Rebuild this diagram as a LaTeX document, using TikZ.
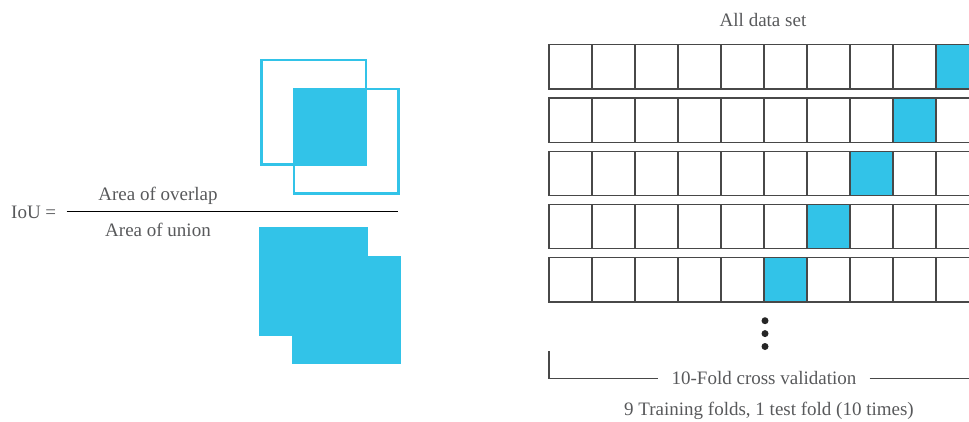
\documentclass[tikz,border=0pt]{standalone}
\usepackage{fontspec}
\setmainfont{Liberation Serif}
\usetikzlibrary{positioning}
\definecolor{iouCyan}{RGB}{50,195,232}
\definecolor{txtGray}{RGB}{88,89,91}
\definecolor{gridGray}{RGB}{72,72,72}

\begin{document}
\begin{tikzpicture}[x=1pt, y=-1pt,
  box/.style={
    rectangle, draw=iouCyan, line width=2.6pt,
    minimum size=104.7pt, inner sep=0pt},
  blob/.style={
    rectangle, fill=iouCyan, minimum size=108.5pt,
    inner sep=0pt, outer sep=0pt},
  lbl/.style={font=\fontsize{19}{22}\selectfont, text=txtGray, inner sep=0pt},
  fold/.style={
    rectangle, draw=gridGray, line width=1.3pt,
    minimum width=43pt, minimum height=44.3pt,
    inner sep=0pt, outer sep=0pt},
  test/.style={fold, fill=iouCyan},
  dot/.style={circle, fill=black!85, minimum size=7pt, inner sep=0pt},
  rule/.style={line width=1.1pt, draw=gridGray},
]
\useasboundingbox (0,0) rectangle (969,421);

%% ---- IoU: overlap ----
\node[box] (sqA) at (313.7,112.2) {};
\node[box] (sqB) at (346.3,141.3) {};
\fill[iouCyan] (sqB.north west) rectangle (sqA.south east);

%% ---- IoU: union ----
\node[blob] (unA) at (313.3,281.5) {};
\node[blob] (unB) at (346.6,310.2) {};

%% ---- Formula ----
\node[lbl, anchor=base] (iou) at (33.7,218)   {IoU =};
\node[lbl, anchor=base] (num) at (158,200)    {Area of overlap};
\node[lbl, anchor=base] (den) at (158,236.7)  {Area of union};
\coordinate (barL) at (66.7,211.7);
\coordinate (barR) at (398,211.7);
\draw[line width=1pt] (barL) -- (barR);

%% ---- Folds ----
\node[lbl, anchor=base] (all) at (763,26.5) {All data set};

\foreach \r in {1,...,5}{
  \foreach \c in {1,...,10}{
    \node[fold] (f\r-\c) at ({570.5+43*(\c-1)}, {66.85+53.25*(\r-1)}) {};
  }
  \pgfmathtruncatemacro{\k}{11-\r}
  \node[test] (t\r) at (f\r-\k) {};
}

\node[dot] (d1) at (765,320.7) {};
\node[dot, below=5.5pt of d1] (d2) {};
\node[dot, below=5.5pt of d2] (d3) {};

%% ---- Bracket ----
\node[lbl, inner xsep=13pt] (cv) at (764,378.3) {10-Fold cross validation};
\coordinate (brTop) at (549,351);
\coordinate (brEnd) at (980,378.3);
\draw[rule] (brTop) |- (cv.west);
\draw[rule] (cv.east) -- (brEnd);

\node[lbl, anchor=base] (folds) at (769,415) {9 Training folds, 1 test fold (10 times)};

\end{tikzpicture}
\end{document}
